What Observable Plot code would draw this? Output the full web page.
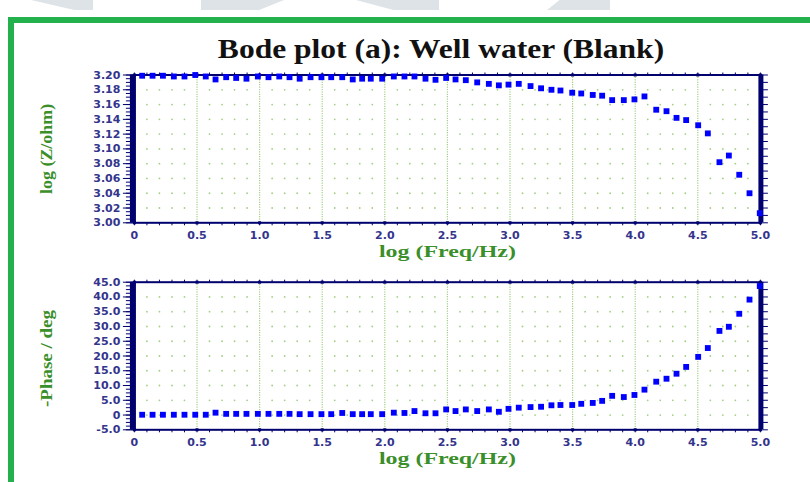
<!DOCTYPE html>
<html>
<head>
<meta charset="utf-8">
<script src="https://cdn.jsdelivr.net/npm/d3@7"></script>
<script src="https://cdn.jsdelivr.net/npm/@observablehq/plot@0.6"></script>
<style>
  html, body { margin: 0; padding: 0; background: #fff; }
  #page { position: relative; width: 810px; height: 482px; overflow: hidden; background: #fff; }
  .gb { position: absolute; background: #22b14c; }
  .wm { position: absolute; top: 0; height: 10px; background: #dde3e6; }
  #title { position: absolute; top: 34px; left: 441px; white-space: nowrap; line-height: 27px;
           font: bold 27px "Liberation Serif", "Times New Roman", serif; color: #111; transform-origin: 50% 50%; }
  .panel { position: absolute; left: 0; }
</style>
</head>
<body>
<div id="page">
  <div class="wm" style="left:31px;width:62px;clip-path:polygon(0 0,100% 0,100% 100%,70% 100%)"></div>
  <div class="wm" style="left:201px;width:83px;clip-path:polygon(0 0,100% 0,70% 100%,0 100%)"></div>
  <div class="wm" style="left:356px;width:83px;clip-path:polygon(0 0,100% 0,100% 100%,45% 100%)"></div>
  <div class="wm" style="left:547px;width:63px;clip-path:polygon(20% 0,100% 0,100% 100%,0 100%)"></div>
  <div class="gb" style="left:8px;top:17px;width:6px;height:470px"></div>
  <div class="gb" style="left:8px;top:17px;width:810px;height:6px"></div>
  <div id="title">Bode plot (a): Well water (Blank)</div>
  <div id="top" class="panel" style="top:0px"></div>
  <div id="bottom" class="panel" style="top:262px"></div>
</div>
<script>
// ---------------- data ----------------
const logFreq = [0.062,0.145,0.228,0.315,0.400,0.486,0.570,0.648,0.733,0.813,
                 0.895,0.986,1.071,1.157,1.239,1.320,1.407,1.494,1.572,1.660,
                 1.744,1.819,1.888,1.979,2.072,2.157,2.237,2.325,2.405,2.490,
                 2.565,2.647,2.738,2.831,2.911,2.988,3.070,3.164,3.248,3.331,
                 3.403,3.497,3.569,3.661,3.736,3.816,3.909,3.994,4.074,4.168,
                 4.250,4.330,4.407,4.503,4.580,4.673,4.748,4.831,4.913,4.995];
const logZ = [3.199,3.199,3.199,3.198,3.198,3.200,3.198,3.194,3.197,3.196,
              3.195,3.198,3.197,3.198,3.197,3.195,3.197,3.197,3.197,3.197,
              3.194,3.195,3.195,3.195,3.198,3.198,3.198,3.195,3.1935,3.196,
              3.194,3.193,3.190,3.188,3.186,3.187,3.188,3.185,3.182,3.180,
              3.179,3.176,3.175,3.173,3.172,3.166,3.166,3.167,3.171,3.153,
              3.151,3.142,3.139,3.132,3.121,3.082,3.091,3.065,3.040,3.013];
const phase = [0.1,0.1,0.1,0.1,0.1,0.1,0.1,0.8,0.4,0.4,
               0.4,0.4,0.4,0.4,0.4,0.3,0.3,0.3,0.3,0.7,
               0.3,0.3,0.3,0.3,0.8,0.7,1.35,0.6,0.6,1.9,
               1.35,1.9,1.35,1.9,1.1,2.1,2.5,2.7,2.8,3.3,
               3.4,3.4,3.8,4.1,4.8,6.5,6.1,6.8,8.6,11.3,
               12.3,14.0,16.3,19.7,22.7,28.5,29.9,34.3,39.1,43.7];

const xTicks = [0,0.5,1.0,1.5,2.0,2.5,3.0,3.5,4.0,4.5,5.0];
const zTicks = [3.00,3.02,3.04,3.06,3.08,3.10,3.12,3.14,3.16,3.18,3.20];
const phaseTicks = [-5,0,5,10,15,20,25,30,35,40,45];

const titleText = "Bode plot (a): Well water (Blank)";
const xTitle = "log (Freq/Hz)";
const zTitle = "log (Z/ohm)";
const phaseTitle = "-Phase / deg";

// ---------------- styles ----------------
const navy = "#00006e";
const labelColor = "#34348c";
const gridGreen = "#a3cf86";
const axisTitleGreen = "#3b8f2a";
const fmt = d => d === 0 ? "0" : d.toFixed(1);

const xMinor = d3.range(0, 5.0001, 0.1);
const xGridDots = xMinor.filter(v => v > 0.01 && v < 4.99 && Math.abs(v * 2 - Math.round(v * 2)) > 1e-6);
const xMajorInner = xTicks.filter(v => v > 0 && v < 5);

function makePanel({ys, yTicks, yFmt, minorStep, rightStep, yTitle, height, marginTop, marginBottom, titleDy}) {
  const yDomain = [yTicks[0], yTicks[yTicks.length - 1]];
  const data = logFreq.map((x, i) => ({x, y: ys[i]}));
  const rows = yTicks.filter(v => v > yDomain[0] && v < yDomain[1]);
  const yMinor = d3.range(yDomain[0], yDomain[1] + minorStep / 2, minorStep);
  const yRight = d3.range(yDomain[0], yDomain[1] + rightStep / 2, rightStep);
  const textOpts = {fontFamily: "DejaVu Sans", fontSize: 11, fontWeight: "bold", fill: labelColor, stroke: navy, label: null};
  return Plot.plot({
    width: 810, height, marginLeft: 133.9, marginRight: 50.1, marginTop, marginBottom,
    style: {background: "transparent", overflow: "visible"},
    x: {domain: [0, 5]},
    y: {domain: yDomain},
    marks: [
      Plot.dot(d3.cross(xGridDots, rows), {x: d => d[0], y: d => d[1], r: 0.9, fill: gridGreen}),
      Plot.ruleX(xMajorInner, {stroke: gridGreen, strokeWidth: 1.2, strokeDasharray: "1.2,1.2"}),
      Plot.frame({stroke: navy, strokeWidth: 2}),
      Plot.axisX(xMinor, {anchor: "top", tickSize: 3, tickFormat: () => "", stroke: navy, label: null}),
      Plot.axisX(xMinor, {anchor: "bottom", tickSize: 3, tickFormat: () => "", stroke: navy, label: null}),
      Plot.dot(xTicks, {x: d => d, y: () => yDomain[1], symbol: "square", r: 1.7, fill: navy}),
      Plot.dot(xTicks, {x: d => d, y: () => yDomain[0], symbol: "square", r: 1.7, fill: navy}),
      Plot.axisX(xTicks, {anchor: "bottom", tickSize: 0, tickPadding: 8, tickFormat: fmt, ...textOpts}),
      Plot.axisY(yMinor, {anchor: "left", tickSize: 8, tickFormat: () => "", stroke: navy, label: null}),
      Plot.axisY(yTicks, {anchor: "left", tickSize: 11, tickPadding: 3, tickFormat: yFmt, ...textOpts}),
      Plot.axisY(yRight, {anchor: "right", tickSize: 7, tickFormat: () => "", stroke: navy, label: null}),
      Plot.ruleX([yDomain].map(() => 0), {stroke: navy, strokeWidth: 6, dx: -1.5}),
      Plot.ruleX([yDomain].map(() => 5), {stroke: navy, strokeWidth: 5, dx: 0.5}),
      Plot.dot(data, {x: "x", y: "y", symbol: "square", r: 3.3, fill: "#0000ff"}),
      Plot.text([xTitle], {frameAnchor: "bottom", lineAnchor: "middle", textAnchor: "middle", dy: 29,
        fontFamily: "Liberation Serif", fontWeight: "bold", fontSize: 17, fill: axisTitleGreen}),
      Plot.text([yTitle], {frameAnchor: "left", textAnchor: "middle", lineAnchor: "middle", dx: -88, dy: titleDy, rotate: -90,
        fontFamily: "Liberation Serif", fontWeight: "bold", fontSize: 16, fill: axisTitleGreen})
    ]
  });
}

const topPlot = makePanel({ys: logZ, yTicks: zTicks, yFmt: d => d.toFixed(2), minorStep: 0.005, rightStep: 0.01,
  yTitle: zTitle, height: 262, marginTop: 74.5, marginBottom: 39.7, titleDy: 0});
const botPlot = makePanel({ys: phase, yTicks: phaseTicks, yFmt: fmt, minorStep: 1.25, rightStep: 2.5,
  yTitle: phaseTitle, height: 220, marginTop: 19.7, marginBottom: 52.7, titleDy: 2.5});
document.getElementById("top").append(topPlot);
document.getElementById("bottom").append(botPlot);

// stretch texts to match the reference's widths
const lengths = {[xTitle]: 137, [zTitle]: 90, [phaseTitle]: 97};
document.querySelectorAll("#page svg text").forEach(t => {
  const L = lengths[t.textContent];
  if (L) { t.setAttribute("textLength", L); t.setAttribute("lengthAdjust", "spacingAndGlyphs"); }
});
const title = document.getElementById("title");
title.textContent = titleText;
const w = title.offsetWidth;
title.style.transform = `translateX(-50%) scaleX(${446 / w})`;
</script>
</body>
</html>
